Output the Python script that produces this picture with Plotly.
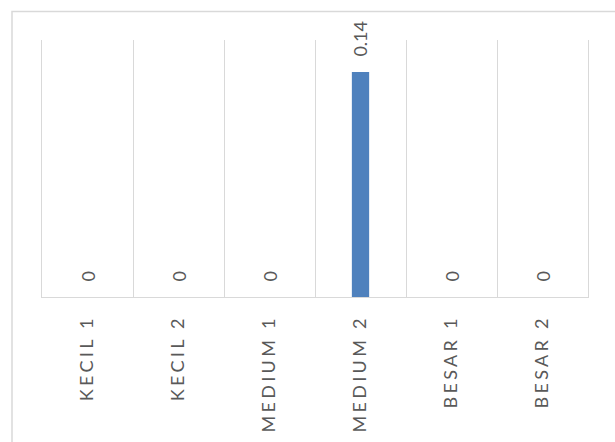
import plotly.graph_objects as go

categories = ["KECIL 1", "KECIL 2", "MEDIUM 1", "MEDIUM 2", "BESAR 1", "BESAR 2"]
values = [0, 0, 0, 0.14, 0, 0]
value_labels = ["0", "0", "0", "0.14", "0", "0"]

FONT = "Lato"
GRAY = "#595959"
GRID = "#d9d9d9"

fig = go.Figure(
    go.Bar(
        x=categories,
        y=values,
        marker=dict(color="#4F81BD", line=dict(width=0)),
        width=0.19,
        hoverinfo="x+y",
    )
)

annotations = [
    dict(
        x=c,
        y=v,
        xref="x",
        yref="y",
        text=t,
        showarrow=False,
        textangle=-90,
        xanchor="center",
        yanchor="bottom",
        yshift=13,
        font=dict(family=FONT, size=18, color=GRAY),
    )
    for c, v, t in zip(categories, values, value_labels)
]

L, R, T, B = 42, 27, 40, 145
W, H = 615, 442
pw, ph = W - L - R, H - T - B

fig.update_layout(
    width=W,
    height=H,
    margin=dict(l=L, r=R, t=T, b=B, pad=0),
    paper_bgcolor="white",
    plot_bgcolor="white",
    showlegend=False,
    annotations=annotations,
    xaxis=dict(
        type="category",
        tickson="boundaries",
        showgrid=True,
        gridcolor=GRID,
        gridwidth=1,
        showline=True,
        linecolor=GRID,
        linewidth=1,
        ticks="",
        tickangle=-90,
        ticklabelstandoff=10,
        tickfont=dict(family=FONT, size=18, color=GRAY),
        fixedrange=True,
    ),
    yaxis=dict(
        range=[0, 0.16],
        showgrid=False,
        zeroline=False,
        showticklabels=False,
        showline=True,
        mirror=True,
        linecolor=GRID,
        linewidth=1,
        ticks="",
        fixedrange=True,
    ),
    shapes=[
        dict(
            type="rect",
            xref="paper",
            yref="paper",
            x0=(12 - L) / pw,
            x1=(W + 10 - L) / pw,
            y0=(H - B - (H + 10)) / ph,
            y1=(H - B - 11.5) / ph,
            line=dict(color=GRID, width=1.5),
            fillcolor="rgba(0,0,0,0)",
            layer="below",
        )
    ],
)

post = """
function spaceTicks(){
  document.querySelectorAll('.xtick text').forEach(function(t){
    t.style.letterSpacing='3.3px';
  });
}
spaceTicks();
var gd=document.querySelector('.plotly-graph-div');
if(gd && gd.on){gd.on('plotly_afterplot', spaceTicks);}
"""

fig.write_html("out.html", config={"displayModeBar": False}, post_script=post)
